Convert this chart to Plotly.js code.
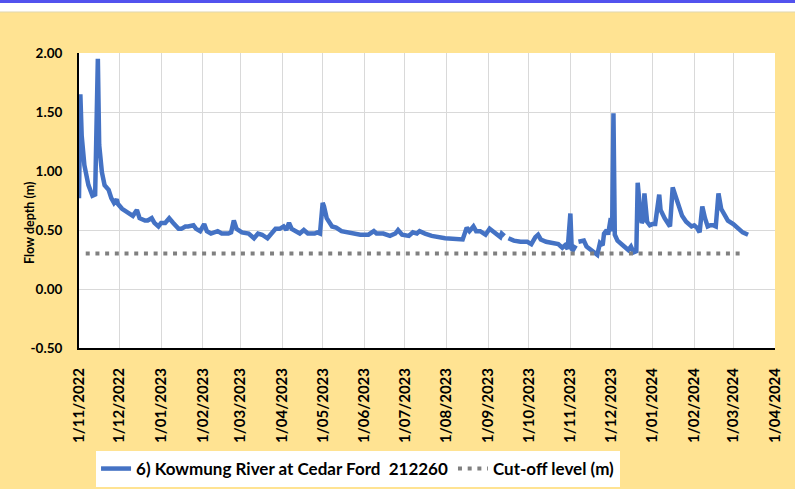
<!DOCTYPE html>
<html>
<head>
<meta charset="utf-8">
<script src="https://cdn.plot.ly/plotly-3.0.1.min.js"></script>
<style>html,body{margin:0;padding:0;background:#fff;}#chart{width:795px;height:489px;}</style>
</head>
<body>
<div id="chart"></div>
<script>
// Series: 6) Kowmung River at Cedar Ford 212260 (flow depth, m)
const dates = [
"2022-11-01","2022-11-02","2022-11-03","2022-11-05","2022-11-08","2022-11-11","2022-11-13","2022-11-15","2022-11-16","2022-11-18",
"2022-11-20","2022-11-23","2022-11-25","2022-11-27","2022-11-29","2022-11-30","2022-12-03","2022-12-07","2022-12-11","2022-12-14",
"2022-12-16","2022-12-20","2022-12-22","2022-12-25","2022-12-27","2022-12-30","2023-01-01","2023-01-04","2023-01-07","2023-01-10",
"2023-01-14","2023-01-16","2023-01-19","2023-01-21","2023-01-25","2023-01-27","2023-01-30","2023-02-02","2023-02-04","2023-02-07",
"2023-02-12","2023-02-15","2023-02-20","2023-02-22","2023-02-24","2023-02-26","2023-03-02","2023-03-07","2023-03-11","2023-03-14",
"2023-03-17","2023-03-21","2023-03-24","2023-03-27","2023-03-30","2023-04-02","2023-04-04","2023-04-06","2023-04-08","2023-04-12",
"2023-04-14","2023-04-17","2023-04-20","2023-04-25","2023-04-27","2023-04-29","2023-05-01","2023-05-02","2023-05-04","2023-05-08",
"2023-05-11","2023-05-15","2023-05-21","2023-05-29","2023-06-04","2023-06-08","2023-06-10","2023-06-15","2023-06-20","2023-06-24",
"2023-06-26","2023-06-29","2023-07-04","2023-07-07","2023-07-10","2023-07-12","2023-07-16","2023-07-21","2023-07-31","2023-08-07",
"2023-08-13","2023-08-16","2023-08-18","2023-08-21","2023-08-23","2023-08-26","2023-08-30","2023-09-02","2023-09-06","2023-09-10",
"2023-09-11","2023-09-13","2023-09-14","2023-09-16","2023-09-20","2023-09-25","2023-09-30","2023-10-03","2023-10-06","2023-10-08",
"2023-10-10","2023-10-14","2023-10-18","2023-10-23","2023-10-26","2023-10-28","2023-10-30","2023-11-01","2023-11-02","2023-11-03",
"2023-11-05","2023-11-06","2023-11-07","2023-11-11","2023-11-13","2023-11-17","2023-11-21","2023-11-23","2023-11-25","2023-11-26",
"2023-11-28","2023-11-29","2023-12-01","2023-12-02","2023-12-03","2023-12-04","2023-12-06","2023-12-11","2023-12-14","2023-12-16",
"2023-12-18","2023-12-20","2023-12-21","2023-12-23","2023-12-24","2023-12-25","2023-12-26","2023-12-28","2023-12-30","2024-01-01",
"2024-01-03","2024-01-06","2024-01-07","2024-01-10","2024-01-12","2024-01-14","2024-01-16","2024-01-18","2024-01-20","2024-01-23",
"2024-01-26","2024-01-30","2024-02-01","2024-02-03","2024-02-05","2024-02-07","2024-02-09","2024-02-11","2024-02-13","2024-02-15",
"2024-02-17","2024-02-19","2024-02-21","2024-02-24","2024-02-26","2024-03-01","2024-03-05","2024-03-08","2024-03-12"
];
const depth = [
0.77,1.65,1.30,1.05,0.88,0.79,0.80,1.95,1.22,0.99,
0.88,0.84,0.77,0.73,0.76,0.72,0.68,0.65,0.62,0.67,
0.60,0.58,0.58,0.60,0.56,0.53,0.56,0.56,0.60,0.56,
0.51,0.51,0.53,0.53,0.54,0.51,0.49,0.55,0.49,0.47,
0.49,0.47,0.47,0.48,0.58,0.51,0.48,0.47,0.43,0.47,
0.46,0.43,0.47,0.51,0.51,0.53,0.50,0.56,0.51,0.49,
0.47,0.50,0.47,0.47,0.48,0.47,0.73,0.70,0.60,0.53,
0.52,0.49,0.48,0.46,0.46,0.49,0.47,0.47,0.45,0.47,
0.50,0.46,0.45,0.48,0.47,0.49,0.47,0.45,0.43,0.42,
0.42,0.52,0.49,0.53,0.49,0.49,0.46,0.51,0.47,0.44,
0.47,0.45,null,0.43,0.41,0.40,0.40,0.38,0.44,0.46,
0.42,0.40,0.39,0.38,0.35,0.37,0.34,0.64,0.34,0.33,
0.37,null,0.40,0.41,0.36,0.33,0.29,0.39,0.37,0.47,
0.50,0.46,0.60,0.49,1.49,0.46,0.41,0.36,0.33,0.36,
0.31,0.32,0.90,0.64,0.56,0.58,0.81,0.57,0.54,0.55,
0.55,0.80,0.67,0.60,0.57,0.53,0.86,0.79,0.70,0.62,
0.57,0.53,0.54,0.52,0.48,0.70,0.60,0.53,0.54,0.54,
0.53,0.81,0.68,0.61,0.58,0.55,0.51,0.48,0.46
];
// Cut-off level series
const cutoffDates = ["2022-11-06","2024-03-07"];
const cutoffLevel = [0.30, 0.30];

// Axis ticks
const xTickVals = ["2022-11-01","2022-12-01","2023-01-01","2023-02-01","2023-03-01","2023-04-01","2023-05-01","2023-06-01","2023-07-01",
                   "2023-08-01","2023-09-01","2023-10-01","2023-11-01","2023-12-01","2024-01-01","2024-02-01","2024-03-01","2024-04-01"];
const xTickText = ["1/11/2022","1/12/2022","1/01/2023","1/02/2023","1/03/2023","1/04/2023","1/05/2023","1/06/2023","1/07/2023",
                   "1/08/2023","1/09/2023","1/10/2023","1/11/2023","1/12/2023","1/01/2024","1/02/2024","1/03/2024","1/04/2024"];
const yTickVals = [-0.5, 0, 0.5, 1.0, 1.5, 2.0];
const yTickText = ["-0.50","0.00","0.50","1.00","1.50","2.00"];

const seriesName = "6) Kowmung River at Cedar Ford\u00a0 212260";
const cutoffName = "Cut-off level (m)";

const FONT = "Lato, 'Open Sans', sans-serif";

const traces = [
  {x: dates, y: depth, type: "scatter", mode: "lines", name: seriesName,
   line: {color: "#4472C4", width: 4.5}, connectgaps: false},
  {x: cutoffDates, y: cutoffLevel, type: "scatter", mode: "lines", name: cutoffName,
   line: {color: "#808080", width: 4, dash: "4px,5.7px"}}
];

const layout = {
  width: 795, height: 489,
  margin: {l: 79, r: 20, t: 53, b: 141},
  paper_bgcolor: "#FFE392",
  plot_bgcolor: "#FFFFFF",
  font: {family: FONT, color: "#000", size: 14, weight: "bold"},
  showlegend: true,
  xaxis: {
    type: "date", range: ["2022-11-01", "2024-04-01"],
    tickvals: xTickVals, ticktext: xTickText, tickangle: -90,
    tickfont: {family: FONT, size: 15, color: "#000", weight: "bold"},
    ticklabelstandoff: 12,
    showgrid: true, gridcolor: "#D9D9D9", gridwidth: 1,
    showline: true, linecolor: "#000", linewidth: 2,
    zeroline: false, ticks: "", fixedrange: true, automargin: false
  },
  yaxis: {
    range: [-0.5, 2.0],
    tickvals: yTickVals, ticktext: yTickText,
    tickfont: {family: FONT, size: 13.5, color: "#000", weight: "bold"},
    ticklabelstandoff: 12,
    showgrid: true, gridcolor: "#D9D9D9", gridwidth: 1,
    showline: true, linecolor: "#000", linewidth: 2,
    zeroline: false, ticks: "", fixedrange: true, automargin: false
  },
  legend: {
    orientation: "h", xref: "container", yref: "container",
    x: 0.1208, y: 0.0777, xanchor: "left", yanchor: "top",
    bgcolor: "#FFFFFF", borderwidth: 0,
    font: {family: FONT, size: 17, color: "#000", weight: "bold"}
  },
  annotations: [{
    text: "Flow depth (m)", xref: "paper", yref: "paper",
    x: -0.0718, y: 0.4237, xanchor: "center", yanchor: "middle",
    textangle: -90, showarrow: false,
    font: {family: FONT, size: 12.5, color: "#000", weight: "bold"}
  }],
  shapes: [
    {type: "rect", xref: "paper", yref: "paper", x0: -0.12, x1: 1.04, y0: 1.139, y1: 1.19,
     fillcolor: "#FFFFFF", line: {width: 0}},
    {type: "rect", xref: "paper", yref: "paper", x0: -0.12, x1: 1.04, y0: 1.1695, y1: 1.19,
     fillcolor: "#5252EE", line: {width: 0}},
    {type: "line", xref: "paper", yref: "paper", x0: -0.12, x1: 1.04, y0: 1.139, y1: 1.139,
     line: {color: "#E0D6B0", width: 1}}
  ]
};

Plotly.newPlot("chart", traces, layout, {displayModeBar: false, staticPlot: true});
</script>
</body>
</html>
